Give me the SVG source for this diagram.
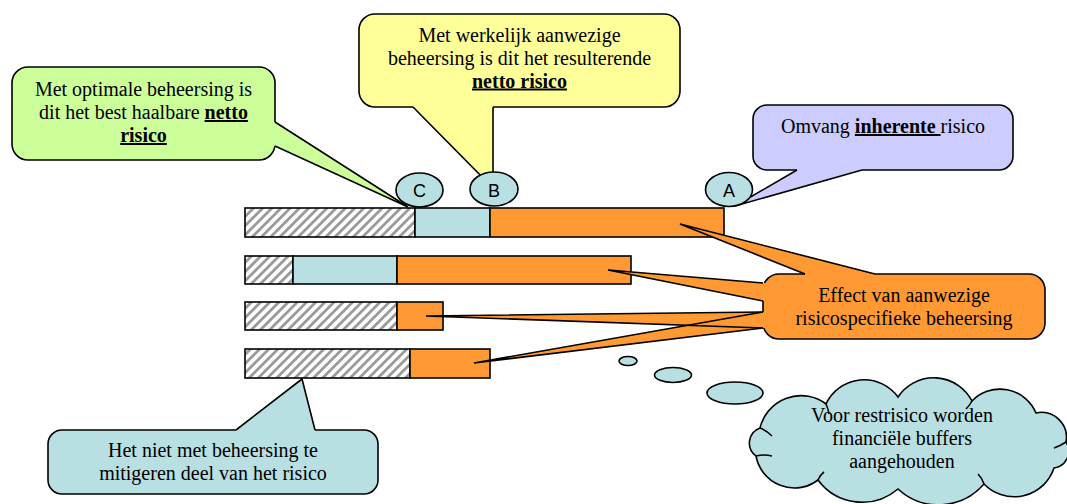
<svg xmlns="http://www.w3.org/2000/svg" width="1067" height="504" viewBox="0 0 1067 504">
<style>
  .t { font-family: "Liberation Serif", "Times New Roman", serif; font-size: 20px; fill: #000; text-anchor: middle; }
  .s { font-family: "Liberation Sans", Arial, sans-serif; font-size: 18px; fill: #000; text-anchor: middle; }
  .bu { font-weight: bold; text-decoration: underline; }
  .bar { stroke: #000; stroke-width: 1.6; }
  .hatch { fill: url(#hatch); }
  .blue { fill: #B8DFE2; }
  .orange { fill: #FF9933; }
  .body { stroke: #000; stroke-width: 1.6; }
  .tailfill { stroke: none; }
  .tailline { fill: none; stroke: #000; stroke-width: 1.6; stroke-linejoin: miter; }
  .lbl { fill: #B8DFE2; stroke: #000; stroke-width: 1.6; }
</style>
<defs>
  <pattern id="hatch" width="6.5" height="6.5" patternUnits="userSpaceOnUse" patternTransform="rotate(45)">
    <rect width="6.5" height="6.5" fill="#ffffff"/>
    <rect width="2.8" height="6.5" fill="#9a9a9a"/>
  </pattern>
</defs>
<rect width="1067" height="504" fill="#ffffff"/>

<g id="bar1">
  <rect class="bar hatch" x="245" y="208" width="170" height="29"/>
  <rect class="bar blue" x="415" y="208" width="75" height="29"/>
  <rect class="bar orange" x="490" y="208" width="234" height="29"/>
</g>
<g id="bar2">
  <rect class="bar hatch" x="245" y="256" width="48" height="28"/>
  <rect class="bar blue" x="293" y="256" width="104" height="28"/>
  <rect class="bar orange" x="397" y="256" width="234" height="28"/>
</g>
<g id="bar3">
  <rect class="bar hatch" x="245" y="302" width="152" height="28"/>
  <rect class="bar orange" x="397" y="302" width="46" height="28"/>
</g>
<g id="bar4">
  <rect class="bar hatch" x="245" y="349" width="165" height="29"/>
  <rect class="bar orange" x="410" y="349" width="80" height="29"/>
</g>

<g id="callout-optimaal">
  <rect class="body" x="12" y="67" width="263" height="93" rx="16" fill="#CCFF99"/>
  <text class="t" x="143.5" y="96">Met optimale beheersing is</text>
  <text class="t" x="143.5" y="119">dit het best haalbare <tspan class="bu">netto</tspan></text>
  <text class="t" x="143.5" y="142"><tspan class="bu">risico</tspan></text>
</g>
<g id="callout-werkelijk">
  <rect class="body" x="359" y="14" width="321" height="93" rx="16" fill="#FFFF99"/>
  <text class="t" x="519.5" y="42">Met werkelijk aanwezige</text>
  <text class="t" x="519.5" y="64.5">beheersing is dit het resulterende</text>
  <text class="t" x="519.5" y="87.5"><tspan class="bu">netto risico</tspan></text>
</g>
<g id="callout-inherent">
  <rect class="body" x="753" y="105" width="260" height="65" rx="14" fill="#CCCCFF"/>
  <text class="t" x="883" y="133">Omvang <tspan class="bu">inherente </tspan>risico</text>
</g>
<g id="callout-effect">
  <rect class="body" x="763" y="274" width="282" height="65" rx="16" fill="#FF9933"/>
  <text class="t" x="904" y="302">Effect van aanwezige</text>
  <text class="t" x="904" y="325">risicospecifieke beheersing</text>
</g>
<g id="callout-niet-mitigeerbaar">
  <rect class="body" x="48" y="430" width="330" height="64" rx="14" fill="#B8DFE2"/>
  <text class="t" x="213" y="457">Het niet met beheersing te</text>
  <text class="t" x="213" y="480">mitigeren deel van het risico</text>
</g>

<g id="connectors">
  <polygon class="tailfill" fill="#CCFF99" points="271,122 275,122 408,207 275,146 271,146"/>
  <polyline class="tailline" points="275,122 408,207 275,146"/>
  <polygon class="tailfill" fill="#FFFF99" points="413,103 493,103 493,188 413,107"/>
  <polyline class="tailline" points="413,107 493,188 493,107"/>
  <polygon class="tailfill" fill="#CCCCFF" points="797,166 862,166 862,170 735,206 797,170"/>
  <polyline class="tailline" points="797,170 735,206 862,170"/>
  <polygon class="tailfill" fill="#B8DFE2" points="236,434 236,430 302,379 315,430 315,434"/>
  <polyline class="tailline" points="236,430 302,379 315,430"/>
  <polygon class="tailfill" fill="#FF9933" points="805,278 805,274 680,224 875,274 875,278"/>
  <polygon class="tailfill" fill="#FF9933" points="767,283 763,283 608,270 763,301 767,301"/>
  <polygon class="tailfill" fill="#FF9933" points="767,312 763,312 426,316 763,328 767,328"/>
  <polygon class="tailfill" fill="#FF9933" points="767,312 763,312 474,363 763,328 767,328"/>
  <polyline class="tailline" points="805,274 680,224 875,274"/>
  <polyline class="tailline" points="763,283 608,270 763,301"/>
  <polyline class="tailline" points="763,312 426,316 763,328"/>
  <polyline class="tailline" points="763,312 474,363 763,328"/>
</g>

<g id="label-C">
  <ellipse class="lbl" cx="419.5" cy="190" rx="23.5" ry="17"/>
  <text class="s" x="419.5" y="197">C</text>
</g>
<g id="label-B">
  <ellipse class="lbl" cx="494" cy="189" rx="24" ry="17"/>
  <text class="s" x="494" y="197">B</text>
</g>
<g id="label-A">
  <ellipse class="lbl" cx="729" cy="189.5" rx="23.5" ry="17"/>
  <text class="s" x="729" y="197">A</text>
</g>

<g id="cloud-restrisico">
  <ellipse class="lbl" cx="628" cy="361" rx="9" ry="4.5"/>
  <ellipse class="lbl" cx="673" cy="375" rx="18.5" ry="7.5"/>
  <ellipse class="lbl" cx="735" cy="393" rx="28" ry="11"/>
  <path class="lbl" d="M760,428 A42,42 0 0 1 826,404 A42,42 0 0 1 898,397 A43,43 0 0 1 972,401 A39,39 0 0 1 1036,413 A25,25 0 0 1 1066,442 A17,17 0 0 1 1054,468 A42,42 0 0 1 984,484 A60,60 0 0 1 898,489 A55,55 0 0 1 818,480 A39,39 0 0 1 756,456 A16,16 0 0 1 760,428 Z"/>
  <path fill="none" stroke="#000" stroke-width="1.6" d="M760,428 q6,2 12,8 M826,404 q2,4 3,10 M972,401 q-2,4 -6,8 M1066,442 q-6,4 -12,6 M984,484 q-2,-6 -6,-10 M818,480 q2,-5 6,-8 M756,456 q8,-2 16,0"/>
  <text class="t" x="902" y="422">Voor restrisico worden</text>
  <text class="t" x="902" y="445">financiële buffers</text>
  <text class="t" x="902" y="468">aangehouden</text>
</g>
</svg>
